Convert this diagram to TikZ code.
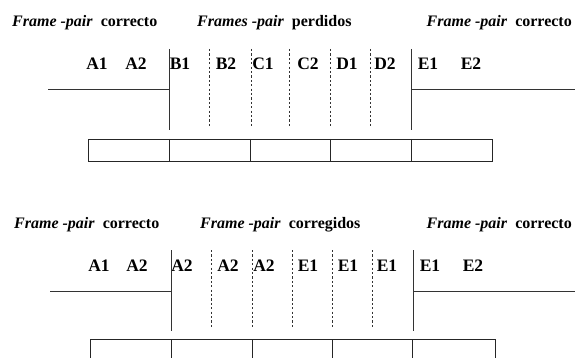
\documentclass[tikz,border=0pt]{standalone}
\usepackage{fontspec}
\setmainfont{Liberation Serif}
\usetikzlibrary{positioning}

\begin{document}
\begin{tikzpicture}[x=1pt, y=-1pt,
  heading/.style={font=\fontsize{16}{16}\selectfont\bfseries, inner sep=0pt, anchor=base west},
  slot/.style={font=\fontsize{17.5}{17.5}\selectfont\bfseries, inner sep=0pt, anchor=base},
  frameline/.style={draw=black!80, line width=0.9pt},
  gapline/.style={draw=black!80, line width=0.9pt, dash pattern=on 2.2pt off 2.2pt},
  cell/.style={draw=black!85, line width=0.9pt}
]
\clip (0,0) rectangle (575,358);

% --- lost frame pairs ---
\node[heading] (okA) at (12,27) {\textit{Frame -pair}\ \ correcto};
\node[heading] (lost) at (197,27) {\textit{Frames -pair}\ \ perdidos};
\node[heading, anchor=base east] (okB) at (572,27) {\textit{Frame -pair}\ \ correcto};

\foreach \txt/\x [count=\i] in {A1/97,A2/136,B1/180,B2/226,C1/263,C2/308,D1/347,D2/385,E1/428,E2/471}
  \node[slot] (t\i) at (\x,70) {\txt};

\coordinate (tl0) at (48,89);
\coordinate (tl1) at (169,89);
\coordinate (tr1) at (411,89);
\coordinate (tr0) at (575,89);
\draw[frameline] (tl0) -- (tl1);
\draw[frameline] (tr1) -- (tr0);
\draw[frameline] (169,49) -- (169,130);
\draw[frameline] (411,49) -- (411,130);
\foreach \x in {209,251,289,330,370}
  \draw[gapline] (\x,49) -- (\x,127);

\draw[cell] (88,139) rectangle (492,161);
\foreach \x in {169,250,330,411}
  \draw[cell] (\x,139) -- (\x,161);

% --- corrected frame pairs ---
\node[heading] (okC) at (14,228) {\textit{Frame -pair}\ \ correcto};
\node[heading] (fixed) at (200,228) {\textit{Frame -pair}\ \ corregidos};
\node[heading, anchor=base east] (okD) at (572,228) {\textit{Frame -pair}\ \ correcto};

\foreach \txt/\x [count=\i] in {A1/99,A2/137,A2/182,A2/228,A2/264,E1/308,E1/348,E1/387,E1/430,E2/473}
  \node[slot] (b\i) at (\x,271.5) {\txt};

\coordinate (bl0) at (50,291);
\coordinate (bl1) at (171,291);
\coordinate (br1) at (413,291);
\coordinate (br0) at (575,291);
\draw[frameline] (bl0) -- (bl1);
\draw[frameline] (br1) -- (br0);
\draw[frameline] (171,250) -- (171,331);
\draw[frameline] (413,250) -- (413,331);
\foreach \x in {211,252,292,332,372}
  \draw[gapline] (\x,250) -- (\x,327);

\draw[cell] (90,339) rectangle (495,361);
\foreach \x in {171,252,332,412}
  \draw[cell] (\x,339) -- (\x,361);
\end{tikzpicture}
\end{document}
